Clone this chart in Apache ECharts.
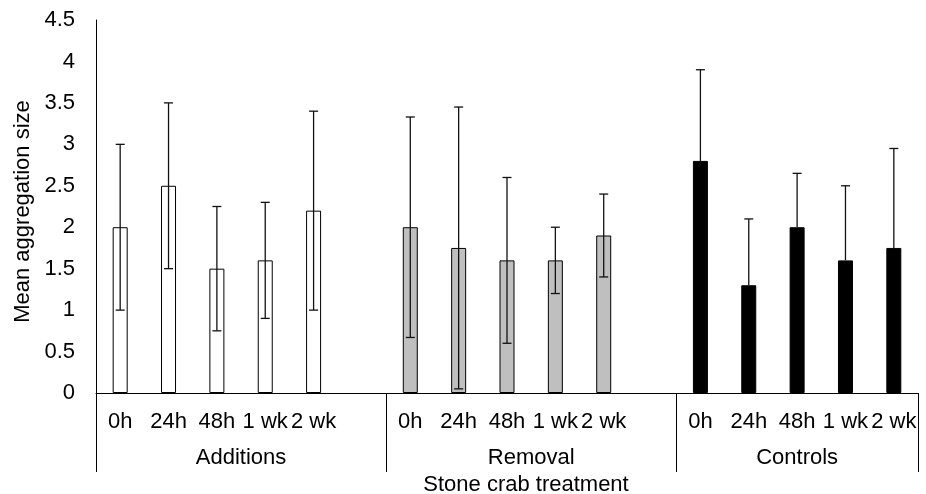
<!DOCTYPE html>
<html>
<head>
<meta charset="utf-8">
<script src="https://cdn.jsdelivr.net/npm/echarts@6/dist/echarts.min.js"></script>
<style>
  html, body { margin: 0; padding: 0; background: #fff; overflow: hidden; }
  #chart { width: 926px; height: 494px; }
</style>
</head>
<body>
<div id="chart"></div>
<script>
// ---- data ----
const timeLabels = ['0h', '24h', '48h', '1 wk', '2 wk'];
const groupNames = ['Additions', 'Removal', 'Controls'];
const yTicks = [0, 0.5, 1, 1.5, 2, 2.5, 3, 3.5, 4, 4.5];

const additionsMean = [2.0, 2.5, 1.5, 1.6, 2.2];
const additionsErr  = [1.0, 1.0, 0.75, 0.7, 1.2];
const removalMean   = [2.0, 1.75, 1.6, 1.6, 1.9];
const removalErr    = [1.33, 1.7, 1.0, 0.4, 0.5];
const controlsMean  = [2.8, 1.3, 2.0, 1.6, 1.75];
const controlsErr   = [1.1, 0.8, 0.65, 0.9, 1.2];
// error bar direction per group (Controls show only the upper bar)
const errPlusOnly = [false, false, true];

const xTitle = 'Stone crab treatment';
const yTitle = 'Mean aggregation size';

// ---- build category axis (blank category separates groups, as in the source sheet) ----
const means = [additionsMean, removalMean, controlsMean];
const errs = [additionsErr, removalErr, controlsErr];
const categories = [];
const groupStart = [];
groupNames.forEach((g, gi) => {
  groupStart.push(categories.length);
  timeLabels.forEach(t => categories.push(t));
  if (gi < groupNames.length - 1) categories.push('');
});
const groupBounds = groupStart.concat([categories.length]);
const groupCenters = groupNames.map((g, gi) => (groupBounds[gi] + groupBounds[gi + 1]) / 2);

const seriesData = means.map((m, gi) => {
  const arr = categories.map(() => '-');
  m.forEach((v, i) => { arr[groupStart[gi] + i] = v; });
  return arr;
});
const errData = [];
means.forEach((m, gi) => {
  m.forEach((v, i) => {
    const lo = errPlusOnly[gi] ? v : v - errs[gi][i];
    errData.push([groupStart[gi] + i, lo, v + errs[gi][i]]);
  });
});

const FONT = "'Liberation Sans', Arial, sans-serif";
const FS = 22;

const chart = echarts.init(document.getElementById('chart'), null, { renderer: 'canvas' });

const fills = ['#ffffff', '#bfbfbf', '#000000'];

const option = {
  animation: false,
  backgroundColor: '#ffffff',
  grid: { left: 96, right: 8, top: 20, bottom: 101, containLabel: false, outerBoundsMode: 'none' },
  xAxis: [
    {
      type: 'category',
      data: categories,
      position: 'bottom',
      axisLine: { show: true, lineStyle: { color: '#000', width: 1 } },
      axisTick: { show: false },
      axisLabel: { interval: 0, margin: 18, color: '#000', fontSize: FS, fontFamily: FONT },
      splitLine: { show: false }
    },
    {
      type: 'value',
      min: 0,
      max: categories.length,
      position: 'bottom',
      axisLine: { show: false },
      splitLine: { show: false },
      axisTick: {
        show: true, customValues: groupBounds, length: 79, inside: false,
        lineStyle: { color: '#000', width: 1 }
      },
      axisLabel: {
        show: true, customValues: groupCenters, margin: 54,
        color: '#000', fontSize: FS, fontFamily: FONT,
        formatter: v => {
          const i = groupCenters.indexOf(v);
          return i >= 0 ? groupNames[i] : '';
        }
      },
      name: xTitle,
      nameLocation: 'middle',
      nameGap: 80,
      nameTextStyle: { color: '#000', fontSize: FS, fontFamily: FONT, padding: [0, 0, 0, 38] }
    }
  ],
  yAxis: {
    type: 'value',
    min: yTicks[0],
    max: yTicks[yTicks.length - 1],
    interval: yTicks[1] - yTicks[0],
    axisLine: { show: true, lineStyle: { color: '#000', width: 1 } },
    axisTick: { show: false },
    splitLine: { show: false },
    axisLabel: { margin: 21, color: '#000', fontSize: FS, fontFamily: FONT, formatter: v => String(v) },
    name: yTitle,
    nameLocation: 'middle',
    nameRotate: 90,
    nameGap: 58,
    nameTextStyle: { color: '#000', fontSize: FS, fontFamily: FONT, padding: [0, 10, 0, 0] }
  },
  series: seriesData.map((d, gi) => ({
    type: 'bar',
    name: groupNames[gi],
    xAxisIndex: 0,
    data: d,
    barWidth: 15,
    barGap: '-100%',
    itemStyle: { color: fills[gi], borderColor: '#000', borderWidth: 1 },
    z: 2
  })).concat([{
    type: 'custom',
    xAxisIndex: 0,
    data: errData,
    z: 5,
    renderItem: function (params, api) {
      const x = api.value(0);
      const lo = api.coord([x, api.value(1)]);
      const hi = api.coord([x, api.value(2)]);
      const hw = 4.5;
      const st = { stroke: '#111', lineWidth: 1.3 };
      const children = [
        { type: 'line', shape: { x1: hi[0], y1: hi[1], x2: lo[0], y2: lo[1] }, style: st },
        { type: 'line', shape: { x1: hi[0] - hw, y1: hi[1], x2: hi[0] + hw, y2: hi[1] }, style: st }
      ];
      const gi = Math.floor(params.dataIndex / timeLabels.length);
      if (!errPlusOnly[gi]) {
        children.push({ type: 'line', shape: { x1: lo[0] - hw, y1: lo[1], x2: lo[0] + hw, y2: lo[1] }, style: st });
      }
      return { type: 'group', children: children };
    }
  }])
};

chart.setOption(option);
</script>
</body>
</html>
